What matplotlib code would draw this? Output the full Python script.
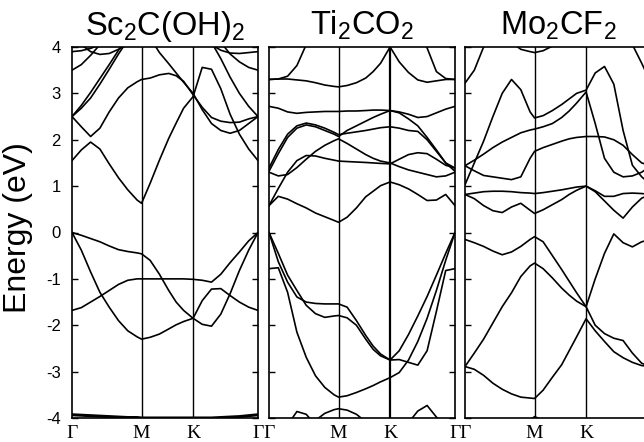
import numpy as np
import matplotlib
matplotlib.use("Agg")
import matplotlib.pyplot as plt

nan = np.nan

# k-path sample points: Gamma=0, M=0.374, K=0.651, Gamma=1
k_path = [0, .05, .1, .15, .2, .25, .3, .35, .374, .42, .47, .52, .56, .6, .651,
          .7, .75, .8, .85, .9, .95, 1.0]
k_ticks = [0, .374, .651, 1.0]
k_labels = ['Γ', 'M', 'K', 'Γ']
e_ticks = [-4, -3, -2, -1, 0, 1, 2, 3, 4]
titles = [r'Sc$_2$C(OH)$_2$', r'Ti$_2$CO$_2$', r'Mo$_2$CF$_2$']

# --- Sc2C(OH)2 bands (eV) ---
sc_v1 = [0, -0.06, -0.13, -0.2, -0.29, -0.37, -0.41, -0.44, -0.46, -0.6, -0.9, -1.25, -1.5, -1.68, -1.85,
         -1.98, -2.02, -1.76, -1.32, -0.82, -0.38, 0]
sc_v2 = [-1.68, -1.62, -1.5, -1.38, -1.25, -1.12, -1.03, -1.0, -1.0, -1.0, -1.0, -1.0, -1.0, -1.0, -1.01,
         -1.03, -1.07, -0.9, -0.65, -0.42, -0.18, 0]
sc_v3 = [0, -0.38, -0.85, -1.29, -1.61, -1.9, -2.12, -2.25, -2.3, -2.26, -2.19, -2.08, -1.99, -1.92, -1.85,
         -1.47, -1.22, -1.21, -1.36, -1.5, -1.61, -1.68]
sc_low = [-3.93, -3.94, -3.95, -3.96, -3.97, -3.98, -3.99, -3.99, -4.0, -4.0, -4.0, -4.0, -4.0, -4.0, -4.0,
          -4.0, -4.0, -3.99, -3.98, -3.97, -3.95, -3.93]
sc_c1 = [1.55, 1.78, 1.95, 1.8, 1.48, 1.18, 0.92, 0.7, 0.63, 1.06, 1.56, 2.03, 2.36, 2.68, 2.93,
         3.56, 3.52, 3.1, 2.55, 2.12, 1.8, 1.55]
sc_c2 = [2.5, 2.28, 2.07, 2.25, 2.6, 2.9, 3.12, 3.25, 3.3, 3.33, 3.4, 3.43, 3.38, 3.26, 2.97,
         2.7, 2.48, 2.4, 2.37, 2.38, 2.45, 2.5]
sc_c3 = [2.5, 2.74, 3.02, 3.32, 3.62, 3.93, 4.25] + [nan] * 15
sc_c3b = [2.5, 2.68, 2.9, 3.2, 3.52, 3.85, 4.15] + [nan] * 15
sc_c4 = [nan] * 9 + [4.2, 3.88, 3.64, 3.44, 3.24, 3.0, 2.65, 2.35, 2.2, 2.14, 2.2, 2.35, 2.5]
sc_c5 = [nan] * 16 + [4.1, 3.75, 3.35, 3.0, 2.72, 2.5]
sc_t1 = [3.9, 3.92, 3.97, 4.05] + [nan] * 18
sc_t2 = [nan, 4.05, 3.9, 3.84, 3.86, 3.95, 4.05] + [nan] * 15
sc_t3 = [3.5, 3.62, 3.82, 4.05] + [nan] * 18
sc_t4 = [nan] * 16 + [4.05, 3.93, 3.87, 3.86, 3.88, 3.9]
sc_t5 = [nan] * 17 + [4.1, 3.85, 3.68, 3.56, 3.5]

# --- Ti2CO2 bands (eV) ---
ti_v1 = [0, -0.63, -1.07, -1.39, -1.5, -1.53, -1.54, -1.54, -1.54, -1.61, -1.9, -2.22, -2.45, -2.62, -2.75,
         -2.55, -2.2, -1.8, -1.38, -0.92, -0.45, 0]
ti_v2 = [0, -0.45, -0.92, -1.25, -1.57, -1.75, -1.83, -1.8, -1.79, -1.84, -2.0, -2.3, -2.52, -2.66, -2.75,
         -2.74, -2.8, -2.86, -2.55, -1.7, -0.82, -0.78]
ti_v3 = [-0.78, -0.76, -1.29, -2.15, -2.69, -3.09, -3.34, -3.5, -3.55, -3.52, -3.45, -3.37, -3.3, -3.22, -3.13,
         -3.02, -2.75, -2.35, -1.85, -1.25, -0.6, 0]
ti_b1 = [nan, nan, -4.15, -3.86, -3.92, -4.15] + [nan] * 16
ti_b2 = [nan] * 5 + [-4.05, -3.9, -3.82, -3.8, -3.83, -3.92, -4.08] + [nan] * 10
ti_b3 = [nan] * 16 + [-4.1, -3.85, -3.73, -3.98, -4.2, nan]
ti_c1 = [0.58, 0.78, 0.72, 0.62, 0.53, 0.42, 0.34, 0.26, 0.22, 0.33, 0.53, 0.77, 0.89, 1.01, 1.09,
         1.03, 0.94, 0.82, 0.69, 0.7, 0.82, 0.58]
ti_c2 = [0.58, 0.95, 1.3, 1.55, 1.66, 1.65, 1.6, 1.56, 1.54, 1.53, 1.52, 1.51, 1.5, 1.49, 1.48,
         1.58, 1.68, 1.72, 1.7, 1.58, 1.45, 1.39]
ti_c3 = [1.3, 1.22, 1.25, 1.4, 1.58, 1.75, 1.88, 1.98, 2.02, 1.92, 1.8, 1.68, 1.6, 1.54, 1.5,
         1.42, 1.35, 1.3, 1.25, 1.2, 1.22, 1.3]
ti_c4 = [1.39, 1.79, 2.12, 2.3, 2.36, 2.32, 2.25, 2.16, 2.11, 2.14, 2.17, 2.2, 2.23, 2.26, 2.28,
         2.25, 2.2, 2.18, 2.0, 1.75, 1.5, 1.39]
ti_c5 = [1.32, 1.7, 2.05, 2.25, 2.32, 2.28, 2.2, 2.12, 2.07, 2.2, 2.3, 2.4, 2.48, 2.55, 2.63,
         2.58, 2.45, 2.3, 2.05, 1.78, 1.5, 1.32]
ti_c6 = [2.72, 2.68, 2.6, 2.57, 2.59, 2.6, 2.61, 2.61, 2.61, 2.62, 2.62, 2.63, 2.64, 2.64, 2.63,
         2.6, 2.55, 2.48, 2.5, 2.58, 2.66, 2.72]
ti_t1 = [3.3, 3.31, 3.31, 3.29, 3.27, 3.23, 3.18, 3.15, 3.14, 3.17, 3.23, 3.33, 3.47, 3.65, 4.0,
         3.68, 3.45, 3.29, 3.24, 3.27, 3.3, 3.3]
ti_t2 = [3.3, 3.31, 3.37, 3.6, 4.05] + [nan] * 17
ti_t3 = [nan] * 17 + [4.4, 3.98, 3.47, 3.32, 3.3]

# --- Mo2CF2 bands (eV) ---
mo_v1 = [-0.15, -0.22, -0.3, -0.4, -0.48, -0.42, -0.3, -0.15, -0.09, -0.2, -0.5, -0.8, -1.05, -1.3, -1.6,
         -1.0, -0.45, -0.03, -0.22, -0.31, -0.2, -0.15]
mo_v2 = [-2.89, -2.6, -2.3, -1.95, -1.6, -1.3, -0.95, -0.72, -0.66, -0.78, -0.98, -1.2, -1.35, -1.48, -1.6,
         -2.0, -2.18, -2.28, -2.33, -2.6, -2.82, -2.89]
mo_v3 = [-2.89, -2.95, -3.08, -3.25, -3.38, -3.48, -3.55, -3.57, -3.58, -3.4, -3.12, -2.85, -2.55, -2.25, -1.86,
         -2.12, -2.35, -2.57, -2.7, -2.8, -2.87, -2.89]
mo_b1 = [nan] * 7 + [-4.05, -3.97, -4.05] + [nan] * 12
mo_c1 = [0.82, 0.73, 0.58, 0.47, 0.43, 0.55, 0.63, 0.48, 0.41, 0.49, 0.6, 0.71, 0.82, 0.91, 1.0,
         0.88, 0.68, 0.48, 0.31, 0.55, 0.74, 0.82]
mo_c2 = [0.82, 0.85, 0.88, 0.89, 0.89, 0.88, 0.86, 0.85, 0.84, 0.86, 0.89, 0.92, 0.95, 0.98, 1.0,
         0.9, 0.78, 0.78, 0.84, 0.85, 0.84, 0.82]
mo_c3 = [1.03, 1.5, 1.97, 2.5, 3.0, 3.3, 3.08, 2.6, 2.47, 2.52, 2.63, 2.76, 2.88, 3.0, 3.07,
         3.44, 3.58, 3.2, 2.2, 1.45, 1.2, 1.03]
mo_c4 = [1.44, 1.56, 1.69, 1.83, 1.95, 2.05, 2.15, 2.21, 2.23, 2.28, 2.35, 2.48, 2.62, 2.79, 3.03,
         2.35, 1.6, 1.3, 1.2, 1.22, 1.3, 1.44]
mo_c5 = [1.44, 1.33, 1.23, 1.2, 1.17, 1.14, 1.2, 1.6, 1.75, 1.83, 1.9, 1.97, 2.02, 2.05, 2.07,
         2.07, 2.06, 2.0, 1.88, 1.68, 1.5, 1.44]
mo_t1 = [3.22, 3.5, 4.0, 4.4] + [nan] * 18
mo_t2 = [nan] * 5 + [4.1, 3.95, 3.9, 3.88, 3.92, 4.02, 4.15] + [nan] * 10
mo_t3 = [nan] * 18 + [4.4, 4.05, 3.65, 3.22]

sc_bands = [sc_v1, sc_v2, sc_v3, sc_c1, sc_c2, sc_c3, sc_c3b, sc_c4, sc_c5,
            sc_t1, sc_t2, sc_t3, sc_t4, sc_t5]
ti_bands = [ti_v1, ti_v2, ti_v3, ti_b1, ti_b2, ti_b3, ti_c1, ti_c2, ti_c3,
            ti_c4, ti_c5, ti_c6, ti_t1, ti_t2, ti_t3]
mo_bands = [mo_v1, mo_v2, mo_v3, mo_b1, mo_c1, mo_c2, mo_c3, mo_c4, mo_c5,
            mo_t1, mo_t2, mo_t3]

plt.rcParams['font.family'] = ['Liberation Sans', 'DejaVu Sans']
plt.rcParams['mathtext.fontset'] = 'custom'
plt.rcParams['mathtext.rm'] = 'Liberation Sans'
plt.rcParams['mathtext.it'] = 'Liberation Sans'
plt.rcParams['axes.unicode_minus'] = False

W, H = 644, 442
fig = plt.figure(figsize=(W / 100, H / 100), dpi=100)
fig.patch.set_facecolor('white')

lefts = [72, 269, 465]
all_bands = [sc_bands, ti_bands, mo_bands]

for i in range(3):
    ax = fig.add_axes([lefts[i] / W, 24 / H, 186 / W, 371 / H])
    for b in all_bands[i]:
        ax.plot(k_path, b, color='black', lw=1.2, solid_joinstyle='round')
    if i == 0:
        ax.plot(k_path, sc_low, color='black', lw=2.2)
    for kv in k_ticks[1:3]:
        # the K line of the middle panel is drawn heavier in the original
        ax.axvline(kv, color='black', lw=1.6 if (i == 1 and kv == k_ticks[2]) else 1.0)
    ax.set_xlim(0, 1)
    ax.set_ylim(-4, 4)
    ax.set_xticks(k_ticks)
    ax.set_xticklabels(k_labels, fontfamily='Liberation Serif', fontsize=14)
    ax.tick_params(axis='x', length=0, pad=5)
    ax.set_yticks(e_ticks)
    ax.tick_params(axis='y', direction='in', length=4.5, width=1.0, left=True, right=True,
                   labelleft=(i == 0), labelsize=12, pad=8)
    for s in ax.spines.values():
        s.set_linewidth(1.2)
    ax.set_title(titles[i], fontsize=23.5, pad=9)

fig.text(18 / W, 1 - 228 / H, 'Energy (eV)', rotation=90, fontsize=23,
         ha='center', va='center')

fig.savefig('out.png', dpi=100)
